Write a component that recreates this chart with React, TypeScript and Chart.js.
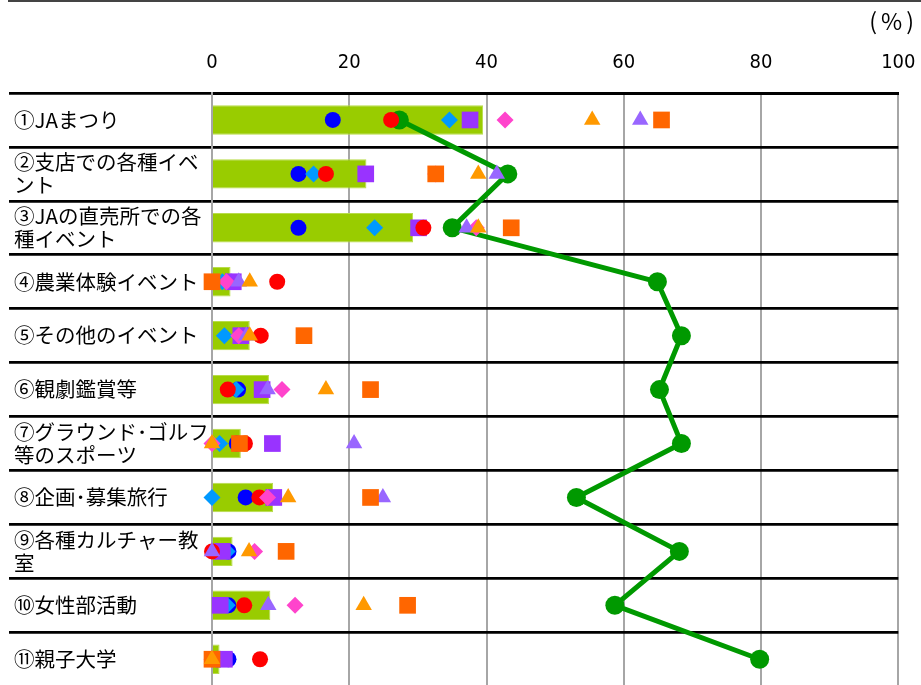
import React, { useEffect, useRef } from "react";
import { Chart, registerables } from "chart.js";

Chart.register(...registerables);

const categories: string[][] = [
  ["①JAまつり"],
  ["②支店での各種イベ", "ント"],
  ["③JAの直売所での各", "種イベント"],
  ["④農業体験イベント"],
  ["⑤その他のイベント"],
  ["⑥観劇鑑賞等"],
  ["⑦グラウンド･ゴルフ", "等のスポーツ"],
  ["⑧企画･募集旅行"],
  ["⑨各種カルチャー教", "室"],
  ["⑩女性部活動"],
  ["⑪親子大学"],
];

const xTicks = [0, 20, 40, 60, 80, 100];
const unitLabel = "(%)";

// green bars
const barValues = [39.5, 22.5, 29.3, 2.7, 5.5, 8.3, 4.2, 8.9, 3.0, 8.5, 1.1];
// green line with markers
const lineValues = [27.3, 43.1, 35.0, 64.9, 68.4, 65.2, 68.4, 53.1, 68.1, 58.7, 79.8];
// scatter markers
const blueCircle = [17.6, 12.6, 12.6, 2.8, 4.5, 3.8, 3.6, 4.9, 2.4, 2.4, 2.4];
const redCircle = [26.1, 16.6, 30.8, 9.5, 7.1, 2.3, 4.8, 6.9, 0.0, 4.7, 7.0];
const blueDiamond = [34.6, 14.8, 23.7, 1.5, 1.8, 3.5, 1.1, 0.0, 2.2, 2.2, 1.2];
const pinkDiamond = [42.7, 32.6, 38.5, 2.1, 3.9, 10.2, 0.0, 8.1, 6.2, 12.1, 0.0];
const orangeTriangle = [55.4, 38.8, 38.8, 5.5, 5.5, 16.6, 0.0, 11.1, 5.4, 22.1, 0.0];
const purpleTriangle = [62.4, 41.5, 37.1, 3.9, 5.0, 8.1, 20.7, 24.9, 0.0, 8.2, 0.0];
const purpleSquare = [37.6, 22.4, 30.1, 3.1, 4.2, 7.3, 8.8, 9.0, 1.5, 1.2, 1.8];
const orangeSquare = [65.5, 32.6, 43.6, 0.0, 13.4, 23.1, 4.0, 23.1, 10.8, 28.5, 0.0];

const markerSet = (
  label: string,
  data: number[],
  color: string,
  pointStyle: string,
  radius: number,
  order: number
) => ({
  type: "line" as const,
  label,
  data,
  indexAxis: "y" as const,
  showLine: false,
  pointStyle,
  pointRadius: radius,
  pointHoverRadius: radius,
  pointBackgroundColor: color,
  pointBorderColor: color,
  pointBorderWidth: 0,
  backgroundColor: color,
  borderColor: color,
  clip: false as any,
  order,
});

const percentLabel = {
  id: "percentLabel",
  afterDraw(chart: any) {
    const { ctx } = chart;
    ctx.save();
    ctx.font = "23px 'Noto Sans CJK JP'";
    (ctx as any).letterSpacing = "4px";
    ctx.fillStyle = "#000";
    ctx.textAlign = "right";
    ctx.textBaseline = "middle";
    ctx.fillText(unitLabel, chart.width - 3, 13);
    ctx.restore();
  },
};

export default function App() {
  const canvasRef = useRef<HTMLCanvasElement | null>(null);

  useEffect(() => {
    document.body.style.margin = "0";
    document.body.style.overflow = "hidden";
    const canvas = canvasRef.current;
    if (!canvas) return;
    const chart = new Chart(canvas, {
      type: "bar",
      data: {
        labels: categories as any,
        datasets: [
          markerSet("orangeTriangle", orangeTriangle, "#FF9900", "triangle", 9.5, 1),
          markerSet("orangeSquare", orangeSquare, "#FF6600", "rect", 11.8, 2),
          markerSet("purpleTriangle", purpleTriangle, "#9966FF", "triangle", 9.5, 3),
          markerSet("pinkDiamond", pinkDiamond, "#FF44CC", "rectRot", 8.5, 4),
          markerSet("redCircle", redCircle, "#FF0000", "circle", 8, 5),
          markerSet("purpleSquare", purpleSquare, "#9933FF", "rect", 11.8, 6),
          markerSet("blueDiamond", blueDiamond, "#0099FF", "rectRot", 8.5, 7),
          markerSet("blueCircle", blueCircle, "#0000FF", "circle", 8, 8),
          {
            type: "line" as const,
            label: "line",
            data: lineValues,
            indexAxis: "y" as const,
            borderColor: "#009900",
            backgroundColor: "#009900",
            borderWidth: 5,
            pointRadius: 9.5,
            pointHoverRadius: 9.5,
            pointBackgroundColor: "#009900",
            pointBorderWidth: 0,
            clip: false as any,
            order: 9,
          } as any,
          {
            type: "bar" as const,
            label: "bar",
            data: barValues,
            backgroundColor: "#99CC00",
            borderColor: "#B8DC4A",
            borderWidth: 1,
            categoryPercentage: 1,
            barPercentage: 0.545,
            order: 10,
          } as any,
        ],
      },
      options: {
        indexAxis: "y",
        animation: false,
        responsive: true,
        maintainAspectRatio: false,
        events: [],
        layout: { padding: { left: 6, right: 22.7, top: 0, bottom: 0 } },
        plugins: {
          legend: { display: false },
          tooltip: { enabled: false },
          title: { display: false },
        },
        scales: {
          x: {
            type: "linear",
            position: "top",
            min: 0,
            max: 100,
            afterBuildTicks: (scale: any) => {
              scale.ticks = xTicks.map((v) => ({ value: v }));
            },
            afterFit: (scale: any) => {
              scale.height = 85;
              scale.paddingLeft = 0;
              scale.paddingRight = 0;
            },
            ticks: {
              color: "#000",
              padding: 18.5,
              font: {
                family: "'Liberation Sans Narrow', 'DejaVu Sans Condensed', sans-serif",
                size: 20,
                lineHeight: 1.2,
              },
            },
            grid: {
              color: "#A6A6A6",
              lineWidth: 2,
              drawTicks: false,
            },
            border: { display: true, color: "#000", width: 3 },
          },
          y: {
            type: "category",
            offset: true,
            afterFit: (scale: any) => {
              scale.width = 198;
            },
            ticks: {
              color: "#000",
              crossAlign: "far",
              autoSkip: false,
              padding: 0,
              font: { family: "'Noto Sans CJK JP', sans-serif", size: 20.5, lineHeight: 1.12 },
            },
            grid: {
              offset: true,
              color: "#000",
              lineWidth: 2.7,
              drawTicks: true,
              tickLength: 203,
            },
            border: { display: true, color: "#A6A6A6", width: 2 },
          },
        },
      } as any,
      plugins: [percentLabel],
    });
    return () => chart.destroy();
  }, []);

  return (
    <div
      style={{
        position: "relative",
        width: "913px",
        height: "690px",
        marginLeft: "8px",
        paddingTop: "6px",
        borderTop: "2px solid #444",
        boxSizing: "content-box",
      }}
    >
      <div style={{ position: "relative", width: "913px", height: "690px" }}>
        <canvas ref={canvasRef} />
      </div>
    </div>
  );
}
